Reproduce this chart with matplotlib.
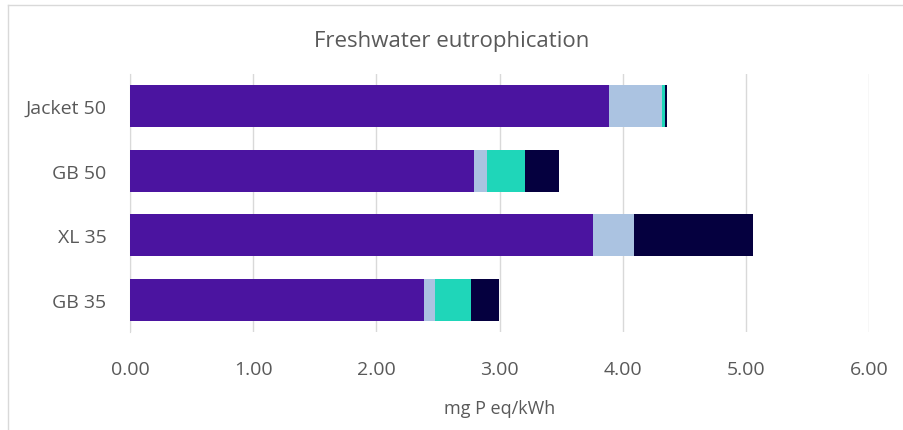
import numpy as np
import matplotlib
matplotlib.use('Agg')
import matplotlib.pyplot as plt
from matplotlib.lines import Line2D

plt.rcParams['font.family'] = ['Liberation Sans Narrow', 'Open Sans', 'DejaVu Sans']

# Freshwater eutrophication per life-cycle stage (mg P eq/kWh)
designs = ['GB 35', 'XL 35', 'GB 50', 'Jacket 50']
stage_a = [2.39, 3.76, 2.79, 3.89]
stage_b = [0.09, 0.33, 0.11, 0.43]
stage_c = [0.29, 0.005, 0.31, 0.02]
stage_d = [0.23, 0.96, 0.27, 0.02]
x_ticks = [0, 1, 2, 3, 4, 5, 6]

colors = ['#4b14a0', '#abc3e1', '#1fd6b9', '#05003f']
txt = '#595959'

fig = plt.figure(figsize=(9.04, 4.31), dpi=100)
ax = fig.add_axes([130 / 904, 1 - 333 / 431, (869 - 130) / 904, (333 - 75) / 431])

ind = np.arange(len(designs))
left = np.zeros(len(designs))
for vals, c in zip([stage_a, stage_b, stage_c, stage_d], colors):
    ax.barh(ind, vals, height=0.65, left=left, color=c, zorder=3)
    left += np.array(vals)

ax.set_xlim(0, 6)
ax.set_ylim(-0.5, len(designs) - 0.5)
ax.set_xticks(x_ticks)
ax.set_xticklabels(['%.2f' % v for v in x_ticks], fontsize=14, color=txt)
ax.set_yticks(ind)
ax.set_yticklabels(designs, fontsize=14, color=txt)
ax.tick_params(axis='x', length=0, pad=20)
ax.tick_params(axis='y', length=0, pad=17)
ax.grid(axis='x', color='#d9d9d9', linewidth=1, zorder=0)
for s in ['top', 'right', 'bottom']:
    ax.spines[s].set_visible(False)
ax.spines['left'].set_color('#d9d9d9')
ax.set_xlabel('mg P eq/kWh', fontsize=13, color=txt, labelpad=15)

fig.text(0.5, 1 - 41 / 431, 'Freshwater eutrophication', ha='center', va='center',
         fontsize=16, color=txt)

# chart frame
fig.add_artist(Line2D([8 / 904, 1], [1 - 6 / 431] * 2, color='#d9d9d9', lw=1))
fig.add_artist(Line2D([8 / 904] * 2, [0, 1 - 6 / 431], color='#d9d9d9', lw=1))

fig.savefig('out.png', dpi=100)
